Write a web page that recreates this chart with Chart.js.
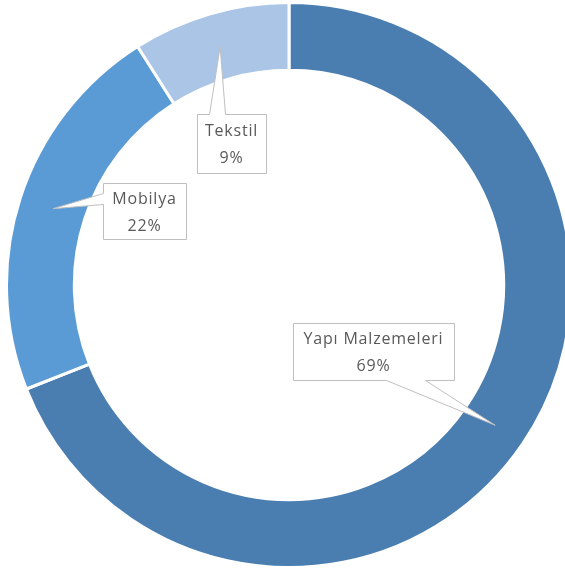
<!DOCTYPE html>
<html>
<head>
<meta charset="utf-8">
<script src="https://cdn.jsdelivr.net/npm/chart.js@4.4.1/dist/chart.umd.min.js"></script>
<style>
  html, body { margin:0; padding:0; background:#fff; overflow:hidden; width:565px; height:571px; }
  #wrap { position:absolute; left:5px; top:1px; width:568px; height:568px; }
</style>
</head>
<body>
<div id="wrap"><canvas id="c"></canvas></div>
<script>
(function(){
  const labels = ['Yapı Malzemeleri', 'Mobilya', 'Tekstil'];
  const values = [69, 22, 9];
  const colors = ['#4a7eb1', '#5b9bd5', '#abc5e7'];

  // callout boxes, relative to the chart centre (dx,dy of box top-left, w,h),
  // wedge base on one edge given as [from,to] offsets along that edge
  const callouts = [
    { x: 4,    y: 38,   w: 161, h: 57, edge: 'bottom', base: [93, 132] },
    { x: -186, y: -102, w: 83,  h: 56, edge: 'left',   base: [10, 21] },
    { x: -92,  y: -171, w: 69,  h: 59, edge: 'top',    base: [12, 28] }
  ];

  const calloutPlugin = {
    id: 'callouts',
    afterDraw(chart) {
      const ctx = chart.ctx;
      const meta = chart.getDatasetMeta(0);
      meta.data.forEach((arc, i) => {
        const cfg = callouts[i];
        const cx = arc.x, cy = arc.y;
        const tip = arc.tooltipPosition();
        const L = cx + cfg.x, T = cy + cfg.y, R = L + cfg.w, B = T + cfg.h;
        const pts = [];
        if (cfg.edge === 'top') {
          pts.push([L, T], [L + cfg.base[0], T], [tip.x, tip.y], [L + cfg.base[1], T], [R, T], [R, B], [L, B]);
        } else if (cfg.edge === 'left') {
          pts.push([L, T], [R, T], [R, B], [L, B], [L, T + cfg.base[1]], [tip.x, tip.y], [L, T + cfg.base[0]]);
        } else {
          pts.push([L, T], [R, T], [R, B], [L + cfg.base[1], B], [tip.x, tip.y], [L + cfg.base[0], B], [L, B]);
        }
        ctx.save();
        ctx.beginPath();
        pts.forEach((p, k) => k ? ctx.lineTo(p[0] + 0.5, p[1] + 0.5) : ctx.moveTo(p[0] + 0.5, p[1] + 0.5));
        ctx.closePath();
        ctx.fillStyle = '#ffffff';
        ctx.fill();
        ctx.strokeStyle = '#bfbfbf';
        ctx.lineWidth = 1;
        ctx.stroke();

        ctx.fillStyle = '#595959';
        ctx.font = '16px "Open Sans", sans-serif';
        ctx.textAlign = 'center';
        ctx.textBaseline = 'middle';
        if ('letterSpacing' in ctx) ctx.letterSpacing = '0.8px';
        const mx = (L + R) / 2, my = (T + B) / 2;
        ctx.fillText(labels[i], mx, my - 12);
        ctx.fillText(values[i] + '%', mx, my + 15);
        ctx.restore();
      });
    }
  };

  new Chart(document.getElementById('c'), {
    type: 'doughnut',
    data: {
      labels: labels,
      datasets: [{ data: values, backgroundColor: colors, borderColor: '#ffffff', borderWidth: 3 }]
    },
    options: {
      responsive: true,
      maintainAspectRatio: false,
      animation: false,
      cutout: '76%',
      layout: { padding: 0 },
      plugins: { legend: { display: false }, tooltip: { enabled: false } }
    },
    plugins: [calloutPlugin]
  });
})();
</script>
</body>
</html>
